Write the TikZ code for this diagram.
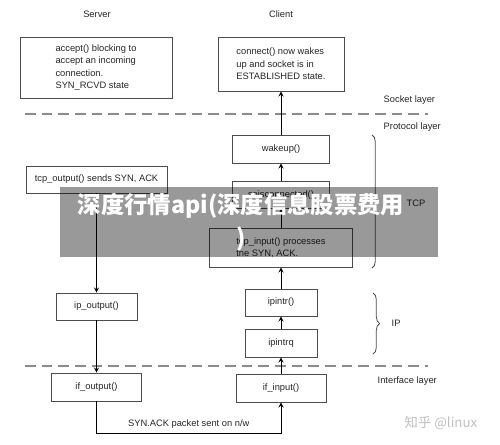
\documentclass[tikz,border=0pt]{standalone}
\usepackage{fontspec}
\setmainfont{Liberation Sans}
\newfontfamily\cjk{Noto Sans CJK SC}
\usetikzlibrary{decorations.pathreplacing}

\begin{document}
\begin{tikzpicture}[x=0.75pt, y=-0.75pt, font=\fontsize{7}{9.4}\selectfont, text=black!85,
        box/.style 2 args={draw=black!70, line width=0.6pt, minimum width=#1*0.75pt, minimum height=#2*0.75pt, inner sep=0pt, align=left},
        layer/.style={draw=black!45, line width=0.8pt, dash pattern=on 8pt off 4.5pt},
        flow/.style={-stealth, line width=0.7pt},
        brace/.style={decorate, decoration={brace, amplitude=5pt}, draw=black!70, line width=0.6pt}]
        \fill [white] (0, 0) rectangle (500, 444);
        \useasboundingbox (0, 0) rectangle (500, 444);
        % headings and layers
        \node (srvname) at (97, 14) {Server};
        \node (cliname) at (281, 14) {Client};
        \draw [layer] (25, 114) -- (428, 114);
        \draw [layer] (25, 366) -- (428, 366);
        \node [anchor=west] (socklbl) at (379, 100) {Socket layer};
        \node [anchor=west] (protlbl) at (379, 127) {Protocol layer};
        \node [anchor=west] (iflbl) at (373, 381) {Interface layer};
        % server side
        \node [box={152}{61}] (accept) at (96, 67.5) {accept() blocking to\\accept an incoming\\connection.\\SYN\_RCVD state};
        \node [box={141}{27}] (tcpout) at (96.5, 179.5) {tcp\_output() sends SYN, ACK};
        \node [box={81}{27}] (ipout) at (96.5, 306.5) {ip\_output()};
        \node [box={90}{28}] (ifout) at (96.5, 387) {if\_output()};
        % client side
        \node [box={126}{54}] (connect) at (281, 64) {connect() now wakes\\up and socket is in\\ESTABLISHED state.};
        \node [box={97}{28}] (wakeup) at (281, 149) {wakeup()};
        \node [box={97}{27}] (sois) at (281, 195) {soisconnected()};
        \node [box={143}{39}] (tcpin) at (281, 247.5) {tcp\_input() processes\\the SYN, ACK.};
        \node [box={72}{27}] (ipintr) at (281, 302.5) {ipintr()};
        \node [box={72}{28}] (ipintrq) at (281, 343) {ipintrq};
        \node [box={90}{28}] (ifin) at (281, 388) {if\_input()};
        % braces
        \draw [brace] (372, 135) -- (372, 268);
        \node [anchor=west] (tcplbl) at (402, 203) {TCP};
        \draw [brace] (373, 293) -- (373, 354);
        \node [anchor=west] (iplbl) at (387, 323.5) {IP};
        % arrows
        \draw [flow] (tcpout) -- (ipout);
        \draw [flow] (ipout) -- (ifout);
        \draw [flow] (ifout.south) -- ++(0, 32) -| (ifin.south) node [pos=0.25, above] {SYN.ACK packet sent on n/w};
        \draw [flow] (ifin) -- (ipintrq);
        \draw [flow] (ipintrq) -- (ipintr);
        \draw [flow] (ipintr) -- (tcpin);
        \draw [flow] (tcpin) -- (sois);
        \draw [flow] (sois) -- (wakeup);
        \draw [flow] (wakeup) -- (connect);
        % watermarks
        \fill [black, opacity=0.4] (60, 187) rectangle (438, 257);
        \node [text=white, font=\cjk\bfseries\fontsize{17.5}{25}\selectfont, align=center] (wmark) at (241, 222) {深度行情api(深度信息股票费用\\)};
        \node [text=black!25, font=\cjk\fontsize{10}{12}\selectfont] (zhihu) at (441, 423) {知乎 @linux};
    \end{tikzpicture}
\end{document}
